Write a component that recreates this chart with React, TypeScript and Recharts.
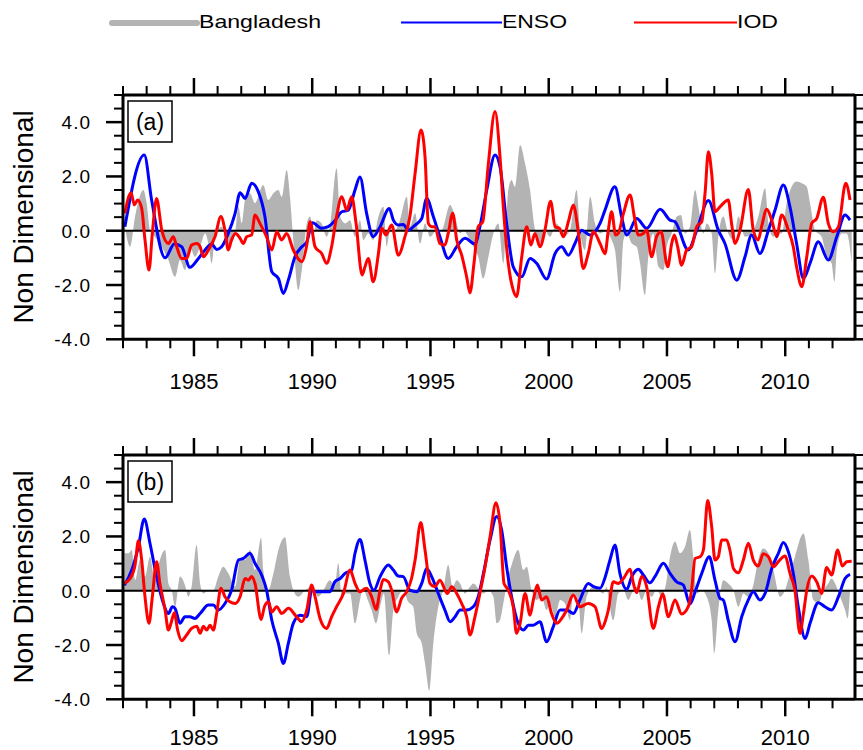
import React from 'react'
import { ComposedChart, Area, Line, XAxis, YAxis, ReferenceLine } from 'recharts'

type Pt = [number, number]

const yearTicks = [
  1982, 1983, 1984, 1985, 1986, 1987, 1988, 1989, 1990, 1991, 1992, 1993, 1994, 1995, 1996, 1997,
  1998, 1999, 2000, 2001, 2002, 2003, 2004, 2005, 2006, 2007, 2008, 2009, 2010, 2011, 2012,
]
const valueTicks = [-4, -3.5, -3, -2.5, -2, -1.5, -1, -0.5, 0, 0.5, 1, 1.5, 2, 2.5, 3, 3.5, 4, 4.5, 5]
const seriesNames = ['Bangladesh', 'ENSO', 'IOD']
const panelLabels = ['(a)', '(b)']

// panel (a)
const bangladeshA: Pt[] = [
  [1982.06, 0.27], [1982.3, -0.59], [1982.51, 0.52], [1982.86, 1.5], [1983.0, 1.01], [1983.14, 0.02],
  [1983.35, -0.22], [1983.64, -0.59], [1983.92, -1.08], [1984.2, -1.7], [1984.41, -1.08], [1984.62, -1.45],
  [1984.83, -0.59], [1985.04, -0.96], [1985.26, -0.59], [1985.47, -0.1], [1985.61, -0.47], [1985.75, -1.2],
  [1985.89, -0.22], [1986.17, 0.15], [1986.45, -0.59], [1986.74, -0.1], [1986.88, 0.88], [1987.02, 0.27],
  [1987.16, 1.13], [1987.37, 1.38], [1987.58, 1.01], [1987.93, 1.68], [1988.14, 1.13], [1988.36, 1.38],
  [1988.57, 1.5], [1988.71, 1.25], [1988.92, 2.24], [1989.06, 1.25], [1989.2, -0.34], [1989.41, -2.19],
  [1989.56, -1.45], [1989.77, 0.27], [1989.91, 0.52], [1990.05, -0.22], [1990.19, 0.39], [1990.4, 0.27],
  [1990.61, -0.22], [1990.75, 0.15], [1991.03, 2.3], [1991.18, 0.52], [1991.39, 0.27], [1991.6, 0.39],
  [1991.81, -0.22], [1992.02, 0.39], [1992.16, -0.34], [1992.37, -0.1], [1992.58, -0.34], [1992.8, 0.52],
  [1993.01, 0.88], [1993.15, -0.59], [1993.29, 0.02], [1993.5, 0.02], [1993.71, 0.39], [1994.0, 1.25],
  [1994.13, 0.15], [1994.35, 0.64], [1994.56, -0.47], [1994.77, 0.27], [1994.98, -0.22], [1995.26, 0.02],
  [1995.47, 0.02], [1995.83, 0.95], [1996.04, 0.52], [1996.25, -0.1], [1996.39, 0.02], [1996.6, -0.22],
  [1996.81, -0.59], [1997.02, -0.96], [1997.23, -1.76], [1997.45, -0.96], [1997.66, -0.1], [1997.87, 0.27],
  [1998.08, -1.2], [1998.29, 1.5], [1998.43, 1.87], [1998.57, 1.62], [1998.79, 3.16], [1999.0, 2.48],
  [1999.21, 1.5], [1999.42, 0.02], [1999.63, -0.47], [1999.84, 0.02], [2000.05, -0.22], [2000.34, 0.27],
  [2000.62, -0.22], [2000.9, 0.02], [2001.18, 1.5], [2001.32, 0.02], [2001.53, -0.71], [2001.75, 1.25],
  [2001.96, 0.27], [2002.17, -0.1], [2002.38, -0.04], [2002.66, -0.34], [2002.8, -0.71], [2003.01, -2.25],
  [2003.16, -0.34], [2003.3, -0.1], [2003.51, -0.47], [2003.72, -0.59], [2003.86, -1.2], [2004.07, -2.37],
  [2004.21, -0.96], [2004.42, -0.1], [2004.64, -1.33], [2004.85, -1.45], [2004.99, -0.59], [2005.2, -0.1],
  [2005.41, 0.52], [2005.59, 0.58], [2005.76, -0.1], [2005.97, 0.15], [2006.19, 1.5], [2006.33, 0.88],
  [2006.54, -0.1], [2006.68, 0.27], [2006.89, -0.1], [2007.03, -1.57], [2007.17, -0.22], [2007.38, 0.52],
  [2007.59, -0.1], [2007.81, -0.34], [2008.02, 0.52], [2008.3, -0.22], [2008.58, -0.1], [2008.86, 0.52],
  [2009.15, 1.56], [2009.29, 0.27], [2009.5, -0.22], [2009.64, -0.1], [2009.85, -0.1], [2010.06, 1.01],
  [2010.27, 1.62], [2010.48, 1.81], [2010.7, 1.75], [2010.91, 1.62], [2011.05, 1.01], [2011.26, 0.02],
  [2011.54, -0.22], [2011.75, -0.96], [2011.96, -1.2], [2012.08, -1.88], [2012.18, -0.71], [2012.39, -0.1],
  [2012.6, -0.1], [2012.81, -1.2],
]

const ensoA: Pt[] = [
  [1982.08, 0.15], [1982.9, 2.79], [1983.21, 1.13], [1983.78, -1.0], [1984.17, -0.49], [1984.48, -0.59],
  [1984.83, -1.35], [1985.19, -1.02], [1985.47, -0.71], [1985.75, -0.49], [1985.96, -0.69], [1986.17, -0.59],
  [1986.45, -0.1], [1986.74, 0.64], [1986.95, 1.4], [1987.16, 1.19], [1987.44, 1.75], [1987.72, 1.44],
  [1988.0, 0.52], [1988.29, -1.51], [1988.57, -1.76], [1988.78, -2.31], [1988.99, -1.82], [1989.27, -0.96],
  [1989.56, -0.59], [1989.77, -0.41], [1990.01, 0.29], [1990.4, 0.09], [1990.68, 0.15], [1990.96, 0.37],
  [1991.25, 0.7], [1991.53, 0.76], [1991.81, 1.5], [1992.02, 1.98], [1992.3, 0.64], [1992.58, -0.22],
  [1992.87, 0.15], [1993.26, 0.82], [1993.43, 0.39], [1993.64, 0.21], [1993.85, 0.23], [1994.06, 0.02],
  [1994.35, 0.21], [1994.63, 0.45], [1994.84, 1.19], [1995.12, 0.52], [1995.4, -0.22], [1995.75, -1.02],
  [1996.11, -0.59], [1996.46, -0.28], [1996.88, -0.49], [1997.09, 0.15], [1997.38, 1.5], [1997.73, 2.79],
  [1997.94, 2.36], [1998.22, 0.27], [1998.5, -1.33], [1998.86, -1.7], [1999.21, -1.02], [1999.49, -1.2],
  [1999.91, -1.78], [2000.27, -0.84], [2000.55, -0.59], [2000.83, -0.9], [2001.11, -0.47], [2001.39, 0.02],
  [2001.75, -0.16], [2002.17, 0.27], [2002.38, 0.76], [2002.8, 1.62], [2003.08, 0.52], [2003.3, -0.16],
  [2003.72, 0.45], [2004.14, 0.09], [2004.71, 0.79], [2005.13, 0.39], [2005.34, 0.33], [2005.9, -0.71],
  [2006.26, 0.02], [2006.75, 1.11], [2007.17, 0.02], [2007.45, -0.47], [2007.95, -1.82], [2008.3, -0.96],
  [2008.58, -0.16], [2008.93, -0.84], [2009.29, 0.02], [2009.57, 0.76], [2009.92, 1.68], [2010.2, 0.88],
  [2010.48, -0.47], [2010.77, -1.76], [2011.05, -1.2], [2011.4, -0.41], [2011.82, -1.08], [2012.18, -0.22],
  [2012.53, 0.58], [2012.74, 0.39],
]

const iodA: Pt[] = [
  [1982.08, 0.64], [1982.34, 1.4], [1982.48, 0.95], [1982.62, 1.13], [1982.79, 0.82], [1982.93, -0.34],
  [1983.1, -1.45], [1983.24, -0.1], [1983.42, 1.19], [1983.64, 0.02], [1983.92, -0.47], [1984.13, -0.22],
  [1984.27, -0.59], [1984.48, -1.02], [1984.69, -1.02], [1984.9, -0.53], [1985.12, -0.47], [1985.26, -0.59],
  [1985.4, -0.96], [1985.61, -0.71], [1985.89, -0.22], [1986.14, 0.52], [1986.31, 0.02], [1986.45, -0.71],
  [1986.59, -0.34], [1986.76, -0.1], [1986.95, -0.28], [1987.09, -0.47], [1987.23, -0.22], [1987.44, -0.16],
  [1987.58, 0.58], [1987.79, 0.27], [1988.07, -0.22], [1988.29, -0.71], [1988.5, -0.04], [1988.71, -0.34],
  [1988.92, -0.1], [1989.2, -0.71], [1989.56, -1.14], [1989.77, -0.53], [1989.91, 0.33], [1990.12, -0.59],
  [1990.4, -0.84], [1990.61, -1.2], [1990.82, -0.59], [1991.03, 0.52], [1991.25, 1.25], [1991.46, 0.76],
  [1991.67, 1.25], [1991.85, 0.3], [1992.11, -1.63], [1992.23, -1.33], [1992.37, -1.02], [1992.58, -1.88],
  [1992.8, -0.84], [1992.94, 0.09], [1993.12, -0.16], [1993.36, 0.21], [1993.64, -0.9], [1993.92, -0.22],
  [1994.13, 0.52], [1994.35, 2.11], [1994.6, 3.71], [1994.77, 2.73], [1994.91, 0.27], [1995.05, 0.15],
  [1995.19, 0.15], [1995.4, -0.47], [1995.61, -0.53], [1995.75, -0.1], [1995.94, 0.64], [1996.11, -0.34],
  [1996.32, -0.9], [1996.53, -1.7], [1996.67, -2.29], [1996.84, -1.2], [1997.02, 0.15], [1997.21, 0.33],
  [1997.45, 2.48], [1997.73, 4.39], [1997.94, 2.73], [1998.08, 0.88], [1998.29, -1.2], [1998.5, -2.19],
  [1998.64, -2.43], [1998.86, -0.96], [1999.07, 0.15], [1999.24, -0.53], [1999.42, -0.1], [1999.63, -0.59],
  [1999.84, 0.02], [2000.08, 1.09], [2000.27, 0.15], [2000.45, 0.09], [2000.62, -0.22], [2000.83, 0.33],
  [2001.04, 0.95], [2001.25, -0.04], [2001.46, -1.39], [2001.67, -0.84], [2001.89, -0.04], [2002.17, -0.47],
  [2002.38, -0.85], [2002.52, 0.02], [2002.66, 0.7], [2002.83, -0.16], [2002.94, -0.1], [2003.16, 0.64],
  [2003.44, 1.32], [2003.62, 0.52], [2003.79, -0.16], [2004.0, -0.1], [2004.14, 0.02], [2004.35, -0.96],
  [2004.56, -0.22], [2004.75, -0.04], [2005.03, -1.33], [2005.2, -0.47], [2005.31, -0.16], [2005.45, -0.59],
  [2005.62, -1.27], [2005.83, -0.71], [2006.04, -0.59], [2006.26, 0.15], [2006.47, 0.33], [2006.61, 1.38],
  [2006.75, 2.91], [2006.89, 2.11], [2007.03, 0.7], [2007.24, 0.88], [2007.59, 1.13], [2007.74, 0.21],
  [2007.88, -0.47], [2008.09, 0.02], [2008.44, 1.52], [2008.65, 0.02], [2008.86, -0.34], [2009.0, 0.15],
  [2009.22, 0.79], [2009.43, 0.39], [2009.64, -0.22], [2009.85, 0.58], [2010.13, 0.02], [2010.34, -0.59],
  [2010.48, -1.33], [2010.7, -2.06], [2010.91, -0.96], [2011.12, 0.27], [2011.33, 0.45], [2011.61, 1.23],
  [2011.82, 0.27], [2012.03, -0.04], [2012.25, 0.15], [2012.56, 1.75], [2012.74, 1.13],
]

// panel (b)
const bangladeshB: Pt[] = [
  [1982.06, 1.38], [1982.23, 1.38], [1982.37, 1.5], [1982.51, 0.39], [1982.72, 1.13], [1982.93, 0.52],
  [1983.14, 1.25], [1983.35, 0.39], [1983.56, 1.13], [1983.78, 1.5], [1983.92, 0.27], [1984.06, 0.02],
  [1984.2, -0.59], [1984.41, 0.52], [1984.62, 0.21], [1984.76, -0.22], [1984.9, 0.15], [1985.11, 1.68],
  [1985.26, 0.27], [1985.4, -0.1], [1985.61, 0.02], [1985.82, 0.02], [1986.03, 0.52], [1986.24, 0.88],
  [1986.45, 0.64], [1986.74, 0.15], [1986.95, 1.13], [1987.16, 1.13], [1987.37, 1.5], [1987.58, 0.76],
  [1987.84, 1.94], [1987.93, 0.76], [1988.14, 0.02], [1988.36, 0.64], [1988.57, 1.5], [1988.85, 1.97],
  [1989.06, 0.52], [1989.2, 0.02], [1989.41, -0.22], [1989.7, 0.02], [1989.98, 0.15], [1990.26, -0.22],
  [1990.47, 0.02], [1990.75, 0.39], [1990.96, 0.15], [1991.1, 1.01], [1991.25, -0.22], [1991.39, -0.1],
  [1991.6, -0.1], [1991.81, -1.2], [1992.02, -0.34], [1992.16, 0.15], [1992.3, -0.22], [1992.51, -0.71],
  [1992.7, -1.2], [1992.87, -0.59], [1993.03, -0.1], [1993.26, -2.37], [1993.43, -0.71], [1993.64, -0.22],
  [1993.85, 0.02], [1994.06, -0.41], [1994.27, -0.59], [1994.42, -1.57], [1994.63, -1.94], [1994.77, -2.68],
  [1994.95, -3.69], [1995.12, -1.94], [1995.33, -0.59], [1995.54, 0.02], [1995.75, 0.95], [1995.94, 0.15],
  [1996.11, 0.39], [1996.25, 0.27], [1996.46, -0.1], [1996.67, 0.15], [1996.81, 0.27], [1997.02, 0.09],
  [1997.24, -0.1], [1997.45, 0.02], [1997.66, -0.22], [1997.8, -1.2], [1997.94, -1.08], [1998.08, -0.47],
  [1998.29, 0.52], [1998.43, 0.95], [1998.71, 1.5], [1998.93, 0.76], [1999.07, 0.88], [1999.28, 0.02],
  [1999.49, -0.34], [1999.7, -0.22], [1999.91, -0.71], [2000.05, -0.47], [2000.27, -0.96], [2000.48, -0.34],
  [2000.69, -0.47], [2000.9, -1.08], [2001.04, -0.1], [2001.25, -0.34], [2001.39, -1.57], [2001.6, -0.22],
  [2001.89, 0.15], [2002.1, 0.02], [2002.31, -0.1], [2002.45, 0.15], [2002.52, -0.22], [2002.73, -1.08],
  [2002.94, -0.1], [2003.16, 0.02], [2003.37, -0.34], [2003.51, -0.1], [2003.72, 0.15], [2003.93, -0.34],
  [2004.14, 0.02], [2004.35, -0.22], [2004.56, 0.02], [2004.78, -0.22], [2004.95, 0.21], [2005.13, 1.25],
  [2005.34, 1.81], [2005.55, 1.38], [2005.76, 1.62], [2005.97, 2.24], [2006.11, 1.25], [2006.26, -0.1],
  [2006.47, 0.02], [2006.68, -0.22], [2006.89, -1.08], [2007.0, -2.31], [2007.17, -0.71], [2007.38, 0.39],
  [2007.59, 0.27], [2007.81, 0.02], [2008.02, -0.59], [2008.23, -0.1], [2008.44, -0.22], [2008.65, 0.21],
  [2008.86, 1.13], [2009.07, 1.56], [2009.29, 1.38], [2009.5, 0.76], [2009.78, -0.22], [2009.99, 0.02],
  [2010.2, 0.64], [2010.41, 1.25], [2010.77, 2.11], [2010.98, 1.13], [2011.19, -0.34], [2011.4, -0.47],
  [2011.61, 0.02], [2011.82, 0.27], [2011.96, 0.45], [2012.11, 0.27], [2012.32, -0.22], [2012.53, -0.71],
  [2012.64, -1.02], [2012.74, 0.02],
]

const ensoB: Pt[] = [
  [1982.06, 0.2], [1982.37, 0.76], [1982.65, 1.62], [1982.9, 2.64], [1983.14, 1.75], [1983.42, 0.52],
  [1983.71, -0.47], [1983.92, -0.84], [1984.09, -0.59], [1984.2, -0.65], [1984.41, -1.2], [1984.62, -0.96],
  [1984.83, -0.96], [1985.04, -1.02], [1985.26, -0.84], [1985.61, -0.53], [1985.82, -0.53], [1986.03, -0.71],
  [1986.31, -0.47], [1986.59, 0.02], [1986.88, 1.13], [1987.09, 1.19], [1987.37, 1.38], [1987.58, 1.01],
  [1987.86, 0.58], [1988.07, 0.02], [1988.29, -1.08], [1988.57, -1.94], [1988.78, -2.68], [1988.99, -1.94],
  [1989.2, -1.2], [1989.49, -0.9], [1989.77, -0.96], [1989.98, 0.02], [1990.19, -0.04], [1990.54, -0.04],
  [1990.75, -0.04], [1990.96, 0.33], [1991.18, 0.45], [1991.39, 0.64], [1991.67, 0.76], [1991.81, 1.38],
  [1992.02, 1.89], [1992.23, 1.13], [1992.44, 0.27], [1992.61, 0.02], [1992.87, 0.52], [1993.22, 0.95],
  [1993.43, 0.76], [1993.64, 0.54], [1993.85, 0.52], [1994.13, 0.02], [1994.42, -0.04], [1994.63, 0.27],
  [1994.84, 0.82], [1995.05, 0.52], [1995.33, -0.1], [1995.61, -0.71], [1995.83, -1.14], [1996.04, -0.96],
  [1996.25, -0.71], [1996.53, -0.71], [1996.81, -0.59], [1997.02, -0.22], [1997.24, 0.64], [1997.52, 1.87],
  [1997.8, 2.73], [1998.01, 2.24], [1998.22, 0.88], [1998.43, -0.22], [1998.71, -1.2], [1998.93, -1.45],
  [1999.14, -1.27], [1999.35, -1.27], [1999.63, -1.14], [1999.91, -1.88], [2000.19, -1.33], [2000.48, -0.71],
  [2000.76, -0.71], [2001.04, -0.84], [2001.32, -0.34], [2001.67, 0.27], [2001.89, 0.15], [2002.17, 0.09],
  [2002.38, 0.48], [2002.59, 1.13], [2002.8, 1.68], [2003.01, 0.64], [2003.3, 0.05], [2003.51, 0.52],
  [2003.79, 0.79], [2004.0, 0.58], [2004.28, 0.29], [2004.49, 0.52], [2004.85, 1.01], [2005.13, 0.64],
  [2005.41, 0.33], [2005.69, 0.21], [2005.97, -0.49], [2006.19, -0.04], [2006.47, 0.64], [2006.79, 1.25],
  [2007.03, 0.39], [2007.24, -0.28], [2007.38, -0.34], [2007.59, -1.08], [2007.88, -1.88], [2008.16, -0.96],
  [2008.44, -0.34], [2008.65, -0.04], [2008.93, -0.34], [2009.15, -0.1], [2009.43, 0.82], [2009.71, 1.38],
  [2009.92, 1.78], [2010.13, 1.44], [2010.34, 0.64], [2010.55, -0.59], [2010.84, -1.76], [2011.05, -1.2],
  [2011.4, -0.44], [2011.68, -0.59], [2011.96, -0.71], [2012.25, -0.22], [2012.53, 0.45], [2012.74, 0.6],
]

const iodB: Pt[] = [
  [1982.06, 0.27], [1982.3, 0.45], [1982.51, 0.95], [1982.65, 1.84], [1982.79, 1.13], [1982.93, -0.22],
  [1983.1, -1.2], [1983.24, -0.22], [1983.42, 1.07], [1983.56, 0.27], [1983.78, -0.71], [1983.92, -1.45],
  [1984.03, -1.2], [1984.17, -0.81], [1984.31, -1.45], [1984.48, -1.84], [1984.69, -1.63], [1984.9, -1.39],
  [1985.12, -1.31], [1985.26, -1.57], [1985.4, -1.31], [1985.54, -1.45], [1985.68, -1.27], [1985.82, -1.45],
  [1985.96, -0.84], [1986.14, 0.09], [1986.31, -0.22], [1986.52, -0.41], [1986.74, -0.47], [1986.95, -0.22],
  [1987.16, 0.45], [1987.3, 0.39], [1987.44, 0.52], [1987.58, 0.27], [1987.84, -1.06], [1987.98, -0.59],
  [1988.15, -0.41], [1988.29, -0.78], [1988.5, -0.59], [1988.71, -0.84], [1988.99, -0.65], [1989.34, -0.96],
  [1989.56, -1.14], [1989.77, -0.71], [1989.98, 0.21], [1990.12, -0.22], [1990.33, -1.02], [1990.61, -1.39],
  [1990.82, -0.96], [1991.03, -0.59], [1991.32, -0.1], [1991.6, 0.76], [1991.81, 0.27], [1992.02, -0.04],
  [1992.3, 0.09], [1992.51, -0.22], [1992.7, -0.69], [1992.87, 0.02], [1993.01, 0.41], [1993.22, 0.33],
  [1993.36, 0.02], [1993.57, -0.78], [1993.78, -0.28], [1993.99, -0.04], [1994.2, 0.45], [1994.35, 1.13],
  [1994.59, 2.51], [1994.77, 1.5], [1994.98, 0.27], [1995.19, 0.15], [1995.4, 0.39], [1995.71, -0.1],
  [1995.9, 0.15], [1996.11, -0.1], [1996.32, -0.47], [1996.53, -0.96], [1996.67, -1.63], [1996.88, -0.96],
  [1997.09, -0.1], [1997.31, 0.88], [1997.52, 1.99], [1997.77, 3.24], [1997.94, 2.48], [1998.11, 0.27],
  [1998.29, 0.02], [1998.5, -0.59], [1998.64, -1.57], [1998.79, -1.2], [1999.0, -0.1], [1999.21, -0.9],
  [1999.35, -0.34], [1999.52, 0.21], [1999.7, -0.34], [1999.91, -0.22], [2000.12, -0.84], [2000.34, -1.2],
  [2000.55, -1.02], [2000.76, -0.71], [2001.04, -0.16], [2001.32, -0.59], [2001.67, -0.47], [2001.96, -0.59],
  [2002.24, -1.39], [2002.4, -1.1], [2002.52, -0.71], [2002.73, 0.33], [2002.94, 0.27], [2003.16, 0.45],
  [2003.44, 0.79], [2003.58, 0.27], [2003.72, -0.07], [2003.93, 0.52], [2004.14, 0.15], [2004.42, -1.39],
  [2004.64, -0.59], [2004.82, -0.12], [2005.06, -0.96], [2005.34, -0.34], [2005.62, -0.86], [2005.9, -0.59],
  [2006.04, 0.02], [2006.19, 1.19], [2006.4, 1.25], [2006.54, 1.5], [2006.72, 3.32], [2006.89, 2.36],
  [2007.03, 1.13], [2007.17, 1.25], [2007.31, 1.87], [2007.52, 1.87], [2007.66, 1.5], [2007.81, 0.82],
  [2008.02, 0.66], [2008.23, 1.13], [2008.44, 1.75], [2008.65, 1.13], [2008.86, 0.91], [2009.07, 1.36],
  [2009.29, 1.25], [2009.5, 0.88], [2009.71, 1.07], [2009.99, 1.28], [2010.2, 0.64], [2010.41, 0.02],
  [2010.62, -1.57], [2010.77, -0.84], [2010.91, 0.02], [2011.12, 0.54], [2011.33, 0.33], [2011.54, -0.1],
  [2011.75, 0.86], [2011.96, 0.58], [2012.22, 1.5], [2012.41, 0.91], [2012.6, 1.07], [2012.81, 1.09],
]

const rows = (s: Pt[]) => s.map(([t, v]) => ({ t, v }))

const FONT = '"Liberation Sans", Arial, Helvetica, sans-serif'

// bottom ticks: long at every 5 years with a label, short in between
const makeBottomTick = (labelOffset: number) => {
  // eslint-disable-next-line @typescript-eslint/no-explicit-any
  return function BottomTick({ x, y, payload }: any) {
    const major = payload.value % 5 === 0
    return (
      <g>
        <line x1={x} x2={x} y1={y} y2={y + (major ? 17 : 9)} stroke="#000" strokeWidth={major ? 2.5 : 2} />
        {major && (
          <text x={x} y={y + labelOffset} textAnchor="middle" fontSize={22} fontFamily={FONT} fill="#000">
            {payload.value}
          </text>
        )}
      </g>
    )
  }
}

// eslint-disable-next-line @typescript-eslint/no-explicit-any
function TopTick({ x, y, payload }: any) {
  const major = payload.value % 5 === 0
  return <line x1={x} x2={x} y1={y} y2={y - (major ? 17 : 9)} stroke="#000" strokeWidth={major ? 2.5 : 2} />
}

// eslint-disable-next-line @typescript-eslint/no-explicit-any
function LeftTick({ x, y, payload }: any) {
  const major = payload.value % 2 === 0
  return (
    <g>
      <line x1={x} x2={x - (major ? 17 : 9)} y1={y} y2={y} stroke="#000" strokeWidth={major ? 2.5 : 2} />
      {major && (
        <text x={x - 32} y={y + 7} textAnchor="end" fontSize={19} letterSpacing={1} fontFamily={FONT} fill="#000">
          {payload.value.toFixed(1)}
        </text>
      )}
    </g>
  )
}

// eslint-disable-next-line @typescript-eslint/no-explicit-any
function RightTick({ x, y, payload }: any) {
  const major = payload.value % 2 === 0
  return <line x1={x} x2={x + (major ? 17 : 9)} y1={y} y2={y} stroke="#000" strokeWidth={major ? 2.5 : 2} />
}

const axisLine = { stroke: '#000', strokeWidth: 3 }

type PanelProps = {
  top: number
  height: number
  labelOffset: number
  label: string
  grey: Pt[]
  enso: Pt[]
  iod: Pt[]
}

function Panel({ top, height, labelOffset, label, grey, enso, iod }: PanelProps) {
  const ensoRows = rows(enso)
  return (
    <div style={{ position: 'absolute', left: 0, top, width: 863, height }}>
      <ComposedChart width={863} height={height} margin={{ top: 94, right: 7, bottom: 0, left: 0 }}>
        <XAxis
          xAxisId="b"
          dataKey="t"
          type="number"
          domain={[1982, 2012.95]}
          allowDataOverflow
          ticks={yearTicks}
          interval={0}
          tick={makeBottomTick(labelOffset)}
          tickLine={false}
          tickSize={0}
          tickMargin={0}
          height={height - 339.3}
          axisLine={axisLine}
        />
        <XAxis
          xAxisId="top"
          orientation="top"
          dataKey="t"
          type="number"
          domain={[1982, 2012.95]}
          allowDataOverflow
          ticks={yearTicks}
          interval={0}
          tick={TopTick}
          tickLine={false}
          tickSize={0}
          tickMargin={0}
          height={1}
          axisLine={axisLine}
        />
        <YAxis
          yAxisId="l"
          type="number"
          domain={[-4, 5]}
          allowDataOverflow
          ticks={valueTicks}
          interval={0}
          tick={LeftTick}
          tickLine={false}
          tickSize={0}
          tickMargin={0}
          width={123}
          axisLine={axisLine}
        />
        <YAxis
          yAxisId="r"
          orientation="right"
          type="number"
          domain={[-4, 5]}
          allowDataOverflow
          ticks={valueTicks}
          interval={0}
          tick={RightTick}
          tickLine={false}
          tickSize={0}
          tickMargin={0}
          width={1}
          axisLine={axisLine}
        />
        <Area
          xAxisId="b"
          yAxisId="l"
          data={rows(grey)}
          dataKey="v"
          name={seriesNames[0]}
          type="monotone"
          baseValue={0}
          fill="#b3b3b3"
          fillOpacity={1}
          stroke="none"
          isAnimationActive={false}
        />
        <ReferenceLine xAxisId="b" yAxisId="l" y={0} stroke="#000" strokeWidth={2} />
        {/* invisible copy that ties the top and right frame axes to data */}
        <Line
          xAxisId="top"
          yAxisId="r"
          data={ensoRows}
          dataKey="v"
          stroke="none"
          strokeOpacity={0}
          dot={false}
          activeDot={false}
          legendType="none"
          isAnimationActive={false}
        />
        <Line
          xAxisId="b"
          yAxisId="l"
          data={ensoRows}
          dataKey="v"
          name={seriesNames[1]}
          type="monotone"
          stroke="#0000ff"
          strokeWidth={3}
          dot={false}
          activeDot={false}
          isAnimationActive={false}
        />
        <Line
          xAxisId="b"
          yAxisId="l"
          data={rows(iod)}
          dataKey="v"
          name={seriesNames[2]}
          type="monotone"
          stroke="#ff0000"
          strokeWidth={3}
          dot={false}
          activeDot={false}
          isAnimationActive={false}
        />
      </ComposedChart>
      <svg width={863} height={height} style={{ position: 'absolute', left: 0, top: 0, pointerEvents: 'none' }}>
        <rect x={128} y={101} width={44} height={41} fill="#fff" stroke="#000" strokeWidth={1.5} />
        <text x={150} y={129.5} textAnchor="middle" fontSize={23} fontFamily={FONT} fill="#000">
          {label}
        </text>
        <text
          x={33}
          y={217}
          transform="rotate(-90 33 217)"
          textAnchor="middle"
          fontSize={28}
          fontFamily={FONT}
          fill="#000"
        >
          Non Dimensional
        </text>
      </svg>
    </div>
  )
}

function Legend() {
  return (
    <svg width={863} height={45} style={{ position: 'absolute', left: 0, top: 0 }}>
      <line x1={112} x2={197} y1={23} y2={23} stroke="#b3b3b3" strokeWidth={6} strokeLinecap="round" />
      <text x={199} y={27.5} fontSize={19} fontFamily={FONT} textLength={122} lengthAdjust="spacingAndGlyphs">
        {seriesNames[0]}
      </text>
      <line x1={401} x2={502} y1={22.5} y2={22.5} stroke="#0000ff" strokeWidth={2} />
      <text x={502} y={27.5} fontSize={19} fontFamily={FONT} textLength={65} lengthAdjust="spacingAndGlyphs">
        {seriesNames[1]}
      </text>
      <line x1={634} x2={737} y1={22.5} y2={22.5} stroke="#ff0000" strokeWidth={2} />
      <text x={737} y={27.5} fontSize={19} fontFamily={FONT} textLength={41} lengthAdjust="spacingAndGlyphs">
        {seriesNames[2]}
      </text>
    </svg>
  )
}

export default function App() {
  return (
    <div
      style={{
        position: 'absolute',
        left: 0,
        top: 0,
        width: 863,
        height: 750,
        background: '#fff',
        overflow: 'hidden',
        fontFamily: FONT,
      }}
    >
      <Panel top={0} height={400} labelOffset={50} label={panelLabels[0]} grey={bangladeshA} enso={ensoA} iod={iodA} />
      <Panel top={360} height={390} labelOffset={46} label={panelLabels[1]} grey={bangladeshB} enso={ensoB} iod={iodB} />
      <Legend />
    </div>
  )
}
